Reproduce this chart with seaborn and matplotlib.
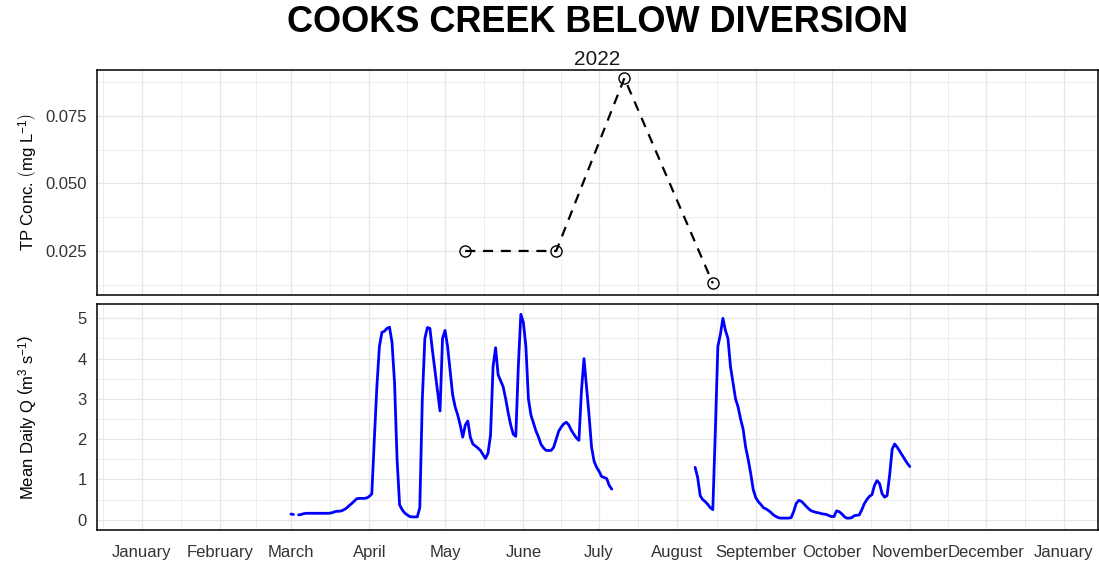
import numpy as np
import pandas as pd
import matplotlib
matplotlib.use("Agg")
import matplotlib.pyplot as plt
import matplotlib.dates as mdates
import matplotlib.ticker as mticker
import seaborn as sns

# TP grab samples (mg/L)
tp_dates = ["2022-05-09", "2022-06-14", "2022-07-11", "2022-08-15"]
tp_values = [0.025, 0.025, 0.089, 0.013]

# mean daily discharge (m3/s), one value per day, nan = no record
nan = np.nan
q_mar = [0.14, 0.13, nan, 0.12, 0.13, 0.15, 0.16, 0.16, 0.16, 0.16, 0.16, 0.16,
         0.16, 0.16, 0.16, 0.16, 0.17, 0.19, 0.21, 0.21, 0.22, 0.25, 0.29, 0.35,
         0.40, 0.46, 0.52, 0.53, 0.53, 0.53, 0.54]
q_apr = [0.58, 0.64, 2.0, 3.3, 4.3, 4.65, 4.68, 4.75, 4.78, 4.4, 3.4, 1.5,
         0.37, 0.25, 0.17, 0.12, 0.08, 0.07, 0.07, 0.07, 0.3, 3.0, 4.5, 4.77,
         4.75, 4.2, 3.7, 3.2, 2.7, 4.5]
q_may = [4.7, 4.3, 3.7, 3.1, 2.8, 2.6, 2.35, 2.05, 2.35, 2.45, 2.05, 1.88,
         1.83, 1.78, 1.72, 1.62, 1.52, 1.65, 2.1, 3.8, 4.27, 3.6, 3.45, 3.3,
         3.0, 2.65, 2.35, 2.12, 2.07, 3.8, 5.1]
q_jun = [4.9, 4.3, 3.0, 2.6, 2.4, 2.2, 2.05, 1.87, 1.78, 1.72, 1.72, 1.72,
         1.8, 2.0, 2.2, 2.3, 2.38, 2.42, 2.35, 2.22, 2.12, 2.03, 1.97, 3.2,
         4.0, 3.3, 2.6, 1.8, 1.45, 1.3]
q_jul = [1.2, 1.07, 1.05, 1.02, 0.85, 0.76] + [nan] * 25
q_aug = [nan] * 7 + [1.3, 1.05, 0.6, 0.5, 0.45, 0.38, 0.3, 0.25, 2.2, 4.3, 4.6,
                     5.0, 4.7, 4.5, 3.8, 3.4, 3.0, 2.8, 2.5, 2.25, 1.8, 1.5,
                     1.15, 0.75]
q_sep = [0.55, 0.45, 0.38, 0.3, 0.27, 0.23, 0.18, 0.12, 0.08, 0.05, 0.04, 0.04,
         0.04, 0.04, 0.05, 0.2, 0.4, 0.48, 0.46, 0.4, 0.33, 0.27, 0.22, 0.2,
         0.18, 0.17, 0.15, 0.14, 0.13, 0.1]
q_oct = [0.08, 0.08, 0.22, 0.2, 0.15, 0.08, 0.04, 0.04, 0.05, 0.1, 0.11, 0.12,
         0.25, 0.4, 0.5, 0.58, 0.62, 0.85, 0.97, 0.9, 0.65, 0.56, 0.6, 1.1,
         1.75, 1.88, 1.8, 1.7, 1.6, 1.5, 1.4]
q_nov = [1.32]

title = "COOKS CREEK BELOW DIVERSION"
subtitle = "2022"

# --- data frames ---
tp_df = pd.DataFrame({"date": pd.to_datetime(tp_dates), "tp": tp_values})

q_all = q_mar + q_apr + q_may + q_jun + q_jul + q_aug + q_sep + q_oct + q_nov
q_df = pd.DataFrame({"date": pd.date_range("2022-03-01", "2022-11-01"), "q": q_all})
q_df["seg"] = q_df["q"].isna().cumsum()
q_df = q_df.dropna()

# --- style ---
sns.set_style("white")
plt.rcParams["font.family"] = ["Liberation Sans", "DejaVu Sans"]
plt.rcParams["mathtext.fontset"] = "custom"
plt.rcParams["mathtext.rm"] = "Liberation Sans"
plt.rcParams["mathtext.it"] = "Liberation Sans:italic"
plt.rcParams["text.color"] = "black"
plt.rcParams["axes.labelcolor"] = "black"

W, H = 1099, 565
fig = plt.figure(figsize=(W / 100, H / 100), dpi=100)
ax1 = fig.add_axes([97 / W, 1 - 295 / H, 1001 / W, 225 / H])
ax2 = fig.add_axes([97 / W, 1 - 530 / H, 1001 / W, 226 / H])

# top: TP concentration
sns.lineplot(data=tp_df, x="date", y="tp", ax=ax1, color="black", linewidth=1.6,
             marker="o", markersize=8, markerfacecolor="none",
             markeredgecolor="black", markeredgewidth=1.0)
ax1.lines[0].set_dashes([4.5, 3.5])

# bottom: discharge, broken where the record is missing
sns.lineplot(data=q_df, x="date", y="q", units="seg", estimator=None, ax=ax2,
             color="blue", linewidth=2.0)

# shared date axis
x0 = pd.Timestamp("2022-01-01") - pd.Timedelta(days=17.8)
x1 = pd.Timestamp("2022-01-01") + pd.Timedelta(days=378.5)
month_starts = pd.date_range("2021-12-01", "2023-02-01", freq="MS")
mids = [a + (b - a) / 2 for a, b in zip(month_starts[:-1], month_starts[1:])]

for ax in (ax1, ax2):
    ax.set_xlim(x0, x1)
    ax.xaxis.set_major_locator(mdates.MonthLocator())
    ax.xaxis.set_major_formatter(mdates.DateFormatter("%B"))
    ax.xaxis.set_minor_locator(mticker.FixedLocator(mdates.date2num(mids)))
    ax.set_axisbelow(True)
    ax.grid(which="major", color="#E6E6E6", linewidth=0.9)
    ax.grid(which="minor", color="#E6E6E6", linewidth=0.5)
    ax.tick_params(which="major", direction="out", length=4, width=0.8,
                   color="#333333", labelsize=12, labelcolor="#333333")
    ax.tick_params(which="minor", length=0)
    for s in ax.spines.values():
        s.set_color("black")
        s.set_linewidth(1.1)
    ax.set_xlabel("")

ax1.tick_params(axis="x", which="both", bottom=False, labelbottom=False)
ax2.tick_params(axis="x", which="major", pad=7)

ax1.set_ylim(0.0087, 0.0920)
ax1.yaxis.set_major_locator(mticker.FixedLocator([0.025, 0.050, 0.075]))
ax1.yaxis.set_minor_locator(mticker.FixedLocator([0.0125, 0.0375, 0.0625, 0.0875]))
ax1.yaxis.set_major_formatter(mticker.FormatStrFormatter("%.3f"))
ax1.set_ylabel(r"TP Conc. $\left(\mathrm{mg\ L^{-1}}\right)$", fontsize=12)
ax1.yaxis.set_label_coords(-0.058, 0.5)

ax2.set_ylim(-0.255, 5.355)
ax2.yaxis.set_major_locator(mticker.FixedLocator([0, 1, 2, 3, 4, 5]))
ax2.yaxis.set_minor_locator(mticker.FixedLocator([0.5, 1.5, 2.5, 3.5, 4.5]))
ax2.yaxis.set_major_formatter(mticker.FormatStrFormatter("%d"))
ax2.set_ylabel(r"Mean Daily Q $\left(\mathrm{m^3\ s^{-1}}\right)$", fontsize=12)
ax2.yaxis.set_label_coords(-0.058, 0.5)

cx = (97 + 1098) / 2 / W
fig.text(cx, 1 - 23 / H, title, ha="center", va="center", fontsize=26,
         fontweight="bold", color="black")
fig.text(cx, 1 - 60 / H, subtitle, ha="center", va="center", fontsize=15,
         color="#1A1A1A")

fig.savefig("out.png", dpi=100)
